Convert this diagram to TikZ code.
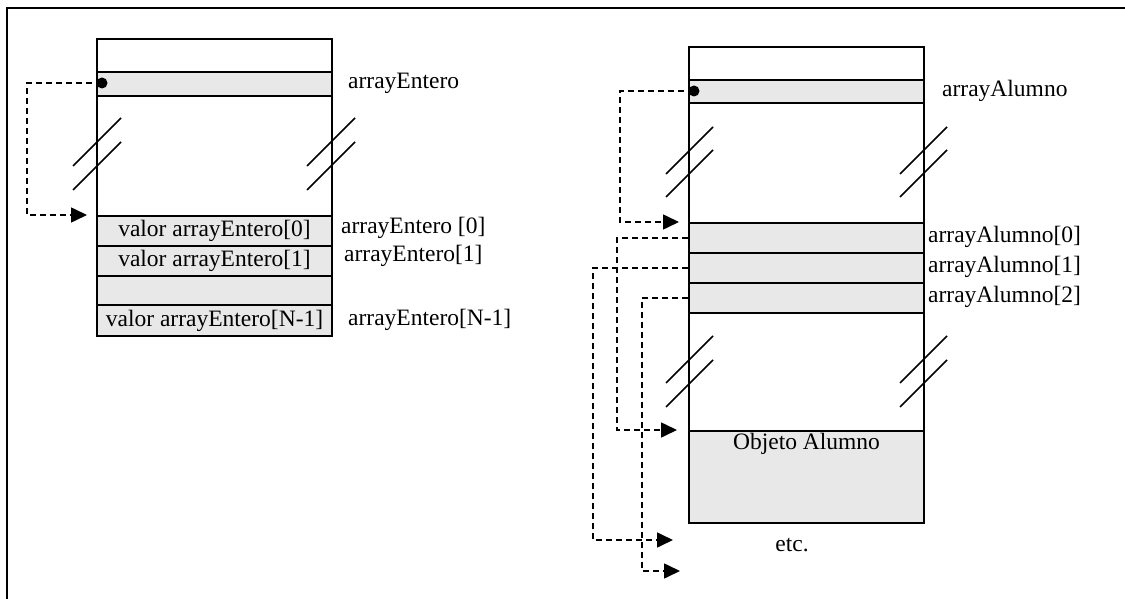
\documentclass[tikz,border=0pt]{standalone}
\usepackage{fontspec}
\setmainfont{Liberation Serif}
\usetikzlibrary{arrows.meta}
\definecolor{celda}{RGB}{232,232,232}

\begin{document}
\begin{tikzpicture}[x=1pt, y=-1pt,
    font=\fontsize{23.5}{28}\selectfont,
    caja/.style={draw, line width=2pt, minimum width=235pt, inner sep=0pt, anchor=north west},
    gris/.style={caja, fill=celda},
    rotulo/.style={anchor=west, inner sep=0pt},
    corte/.style={line width=1.6pt},
    puntero/.style={line width=1.6pt, dash pattern=on 6pt off 4pt, -{Triangle[length=16pt,width=15pt]}}]
    \useasboundingbox (0,0) rectangle (1125,599);
    % marco (solo arriba y a la izquierda)
    \draw[line width=2.6pt] (1125,8) -- (7,8) -- (7,599);

    % memoria de arrayEntero
    \node[caja, minimum height=33pt] (topeE) at (96,38) {};
    \node[gris, minimum height=24pt] (ptrE) at (96,71) {};
    \node[caja, minimum height=120pt] (huecoE) at (96,95) {};
    \node[gris, minimum height=30pt] (e0) at (96,215) {valor arrayEntero[0]};
    \node[gris, minimum height=30pt] (e1) at (96,245) {valor arrayEntero[1]};
    \node[gris, minimum height=29pt] (e2) at (96,275) {};
    \node[gris, minimum height=31pt] (eN) at (96,304) {valor arrayEntero[N-1]};
    \foreach \bx in {73,307} \foreach \by in {166,190}
      \draw[corte] (\bx,\by) -- ++(48,-48);
    \node[rotulo] (rE) at (348,83) {arrayEntero};
    \node[rotulo] (rE0) at (341,228) {arrayEntero [0]};
    \node[rotulo] (rE1) at (344,256) {arrayEntero[1]};
    \node[rotulo] (rEN) at (348,320) {arrayEntero[N-1]};
    \fill (102,83) circle (5.5) coordinate (dotE);
    \draw[puntero, shorten >=9pt] (dotE) -- (27,83) |- (e0.north west);

    % memoria de arrayAlumno
    \node[caja, minimum height=33pt] (topeA) at (688,46) {};
    \node[gris, minimum height=23pt] (ptrA) at (688,79) {};
    \node[caja, minimum height=120pt] (huecoA) at (688,102) {};
    \node[gris, minimum height=30pt] (a0) at (688,222) {};
    \node[gris, minimum height=30pt] (a1) at (688,252) {};
    \node[gris, minimum height=30pt] (a2) at (688,282) {};
    \node[caja, minimum height=118pt] (huecoB) at (688,312) {};
    \node[gris, minimum height=92pt] (obj) at (688,430) {};
    \node[anchor=north, inner sep=3pt] (objTxt) at (obj.north) {Objeto Alumno};
    \foreach \bx in {666,900} \foreach \by in {174,197,383,407}
      \draw[corte] (\bx,\by) -- ++(47,-47);
    \node[rotulo] (rA) at (942,91) {arrayAlumno};
    \foreach \i/\yy in {0/237,1/267,2/297}
      \node[rotulo] (rA\i) at (928,\yy) {arrayAlumno[\i]};
    \node (etc) at (792,545) {etc.};
    \fill (694,91) circle (5.5) coordinate (dotA);
    \draw[puntero, shorten >=9pt] (dotA) -- (620,91) |- (a0.north west);
    % referencias a los objetos
    \coordinate (fin1) at (673,540);
    \coordinate (fin2) at (680,571);
    \draw[puntero, shorten >=11pt] (a0.west) -- ++(-71,0) |- (obj.north west);
    \draw[puntero] (a1.west) -- ++(-95,0) |- (fin1);
    \draw[puntero] (a2.west) -- ++(-46,0) |- (fin2);
  \end{tikzpicture}
\end{document}
